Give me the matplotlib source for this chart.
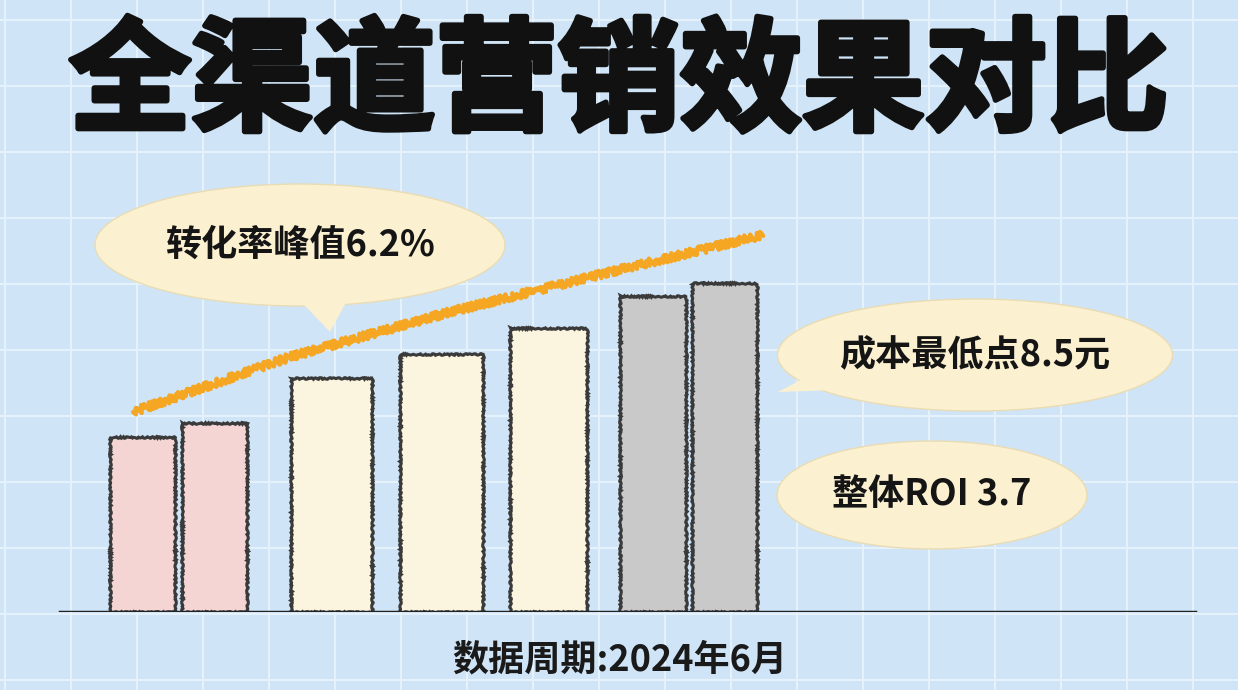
import matplotlib
matplotlib.use("Agg")
import matplotlib.pyplot as plt
import matplotlib.patheffects as pe
from matplotlib.patches import Ellipse, Polygon

plt.rcParams["font.family"] = ["Noto Sans CJK SC", "DejaVu Sans"]

title = "全渠道营销效果对比"
footer = "数据周期:2024年6月"
bar_values = [175, 189, 234, 258, 284, 316, 329]
bar_colors = ["#f5d4d4", "#f5d4d4", "#fbf4de", "#fbf4de", "#fbf4de", "#c9c9c9", "#c9c9c9"]
bar_lefts = [110, 182, 291, 400, 510, 620, 692]
bar_widths = [65, 65, 81, 83, 77, 66, 65]
trend_x = [133, 290, 450, 610, 763]
trend_y = [200, 255, 300, 340, 377]
callouts = ["转化率峰值6.2%", "成本最低点8.5元", "整体ROI 3.7"]

W, H, BASE = 1238, 690, 612
fig = plt.figure(figsize=(W / 100, H / 100), dpi=100)
fig.patch.set_facecolor("#cfe5f7")

# background grid in pixel space
bg = fig.add_axes([0, 0, 1, 1])
bg.set_xlim(0, W)
bg.set_ylim(H, 0)
bg.axis("off")
for gx in range(5, W, 66):
    bg.axvline(gx, color="#e6f2fb", lw=1.5, zorder=0)
for gy in range(20, H, 66):
    bg.axhline(gy, color="#e6f2fb", lw=1.5, zorder=0)

# chart axes: y data = height above baseline in px
ax = fig.add_axes([0, (H - BASE) / H, 1, BASE / H])
ax.set_xlim(0, W)
ax.set_ylim(0, BASE)
ax.axis("off")
for left, w, v, c in zip(bar_lefts, bar_widths, bar_values, bar_colors):
    b = ax.bar(left, v, width=w, align="edge", color=c, edgecolor="#3a3a3a", lw=2.2, zorder=3)
    for p in b:
        p.set_sketch_params(scale=0.8, length=6, randomness=4)
ax.axhline(0, xmin=60 / W, xmax=1195 / W, color="#222222", lw=2.5, zorder=4)
(ln,) = ax.plot(trend_x, trend_y, color="#f5a623", lw=3, zorder=5, solid_capstyle="round")
ln.set_sketch_params(scale=4, length=5, randomness=3)

# callout bubbles (pixel coords on bg)
bubbles = [((300, 245), 410, 122, [(290, 290), (330, 332), (350, 295)]),
           ((975, 355), 395, 112, [(820, 370), (778, 392), (835, 390)]),
           ((932, 495), 310, 108, None)]
for (center, bw, bh, tail), text in zip(bubbles, callouts):
    bg.add_patch(Ellipse(center, bw, bh, facecolor="#fbf0cf", edgecolor="#e9dcb5", lw=1, zorder=6))
    if tail:
        bg.add_patch(Polygon(tail, closed=True, facecolor="#fbf0cf", edgecolor="none", zorder=6))
    bg.text(center[0], center[1], text, ha="center", va="center", fontsize=26,
            fontweight="bold", color="#151515", zorder=7)

bg.text(W / 2, 85, title, ha="center", va="center", fontsize=88, fontweight="black",
        color="#111111", zorder=8,
        path_effects=[pe.withStroke(linewidth=4, foreground="#111111")])
bg.text(620, 660, footer, ha="center", va="center", fontsize=26, fontweight="black",
        color="#1a1a1a", zorder=8)

fig.savefig("out.png", dpi=100, facecolor=fig.get_facecolor())
